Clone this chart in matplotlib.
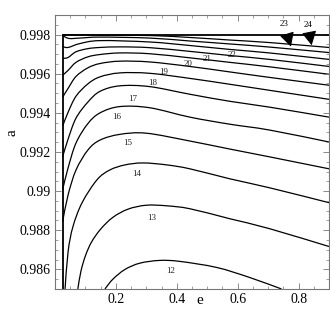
import numpy as np
import matplotlib.pyplot as plt
from matplotlib.path import Path
from matplotlib.patches import PathPatch
from matplotlib.ticker import MultipleLocator

plt.rcParams['font.family'] = ['Liberation Serif', 'DejaVu Serif']

# region where the function is defined
e_min = 0.025
a_max = 0.998

# contour curves: level -> (e values, a values)
e12 = [0.164, 0.190, 0.230, 0.279, 0.344, 0.410, 0.531, 0.639, 0.744]
a12 = [0.98500, 0.98550, 0.98600, 0.98632, 0.98646, 0.98641, 0.98610, 0.98559, 0.98500]

e13 = [0.075, 0.085, 0.1, 0.12, 0.15, 0.19, 0.24, 0.30, 0.367, 0.443, 0.574, 0.705, 0.9]
a13 = [0.98500, 0.98590, 0.98670, 0.98740, 0.98806, 0.98866, 0.98908, 0.98928, 0.98925,
       0.98910, 0.98859, 0.98808, 0.98717]

e14 = [0.033, 0.043, 0.059, 0.089, 0.138, 0.180, 0.230, 0.289, 0.367, 0.443, 0.574, 0.705, 0.9]
a14 = [0.98500, 0.98691, 0.98819, 0.98941, 0.99058, 0.99108, 0.99134, 0.99144, 0.99134,
       0.99114, 0.99063, 0.99017, 0.98941]

e15 = [0.025, 0.043, 0.069, 0.108, 0.148, 0.213, 0.300, 0.443, 0.574, 0.705, 0.9]
a15 = [0.98844, 0.98981, 0.99108, 0.99210, 0.99261, 0.99290, 0.99296, 0.99256,
       0.99215, 0.99175, 0.99114]

e16 = [0.025, 0.043, 0.069, 0.108, 0.148, 0.213, 0.311, 0.443, 0.574, 0.705, 0.9]
a16 = [0.99007, 0.99119, 0.99246, 0.99345, 0.99400, 0.99432, 0.99426, 0.99378, 0.99342,
       0.99312, 0.99251]

e17 = [0.025, 0.043, 0.069, 0.108, 0.148, 0.213, 0.311, 0.443, 0.574, 0.705, 0.9]
a17 = [0.99175, 0.99266, 0.99373, 0.99455, 0.99510, 0.99538, 0.99534, 0.99495, 0.99459,
       0.99429, 0.99378]

e18 = [0.025, 0.043, 0.069, 0.108, 0.148, 0.213, 0.311, 0.443, 0.574, 0.705, 0.9]
a18 = [0.99332, 0.99403, 0.99485, 0.99548, 0.99584, 0.99604, 0.99602, 0.99576, 0.99546,
       0.99515, 0.99469]

e19 = [0.025, 0.043, 0.069, 0.108, 0.148, 0.213, 0.311, 0.443, 0.574, 0.705, 0.9]
a19 = [0.99480, 0.99525, 0.99586, 0.99630, 0.99652, 0.99664, 0.99660, 0.99637, 0.99609,
       0.99581, 0.99541]

e20 = [0.025, 0.043, 0.069, 0.108, 0.148, 0.213, 0.311, 0.443, 0.574, 0.705, 0.9]
a20 = [0.99592, 0.99617, 0.99658, 0.99686, 0.99698, 0.99706, 0.99702, 0.99681, 0.99658,
       0.99635, 0.99597]

e21 = [0.025, 0.043, 0.069, 0.108, 0.148, 0.213, 0.311, 0.443, 0.574, 0.705, 0.9]
a21 = [0.99678, 0.99683, 0.99712, 0.99728, 0.99734, 0.99737, 0.99733, 0.99714, 0.99693,
       0.99673, 0.99637]

e22 = [0.025, 0.043, 0.082, 0.148, 0.311, 0.443, 0.574, 0.705, 0.9]
a22 = [0.99739, 0.99734, 0.99754, 0.99769, 0.99762, 0.99744, 0.99724, 0.99706, 0.99673]

e23 = [0.025, 0.046, 0.082, 0.148, 0.311, 0.443, 0.574, 0.705, 0.9]
a23 = [0.99795, 0.99780, 0.99782, 0.99787, 0.99782, 0.99767, 0.99752, 0.99736, 0.99708]

e24 = [0.025, 0.148, 0.311, 0.443, 0.574, 0.705, 0.9]
a24 = [0.99799, 0.99797, 0.99795, 0.99785, 0.99772, 0.99759, 0.99734]

curves = [(e12, a12), (e13, a13), (e14, a14), (e15, a15), (e16, a16), (e17, a17),
          (e18, a18), (e19, a19), (e20, a20), (e21, a21), (e22, a22), (e23, a23), (e24, a24)]

# contour labels and where they sit
levels = [12, 13, 14, 15, 16, 17, 18, 19, 20, 21, 22]
label_e = [0.380, 0.318, 0.269, 0.239, 0.203, 0.256, 0.321, 0.357, 0.436, 0.498, 0.580]
label_a = [0.98590, 0.98864, 0.99088, 0.99246, 0.99378, 0.99469, 0.99551, 0.99607,
           0.99647, 0.99673, 0.99698]

# labels with arrows (text position, arrow tip)
arrow_levels = [23, 24]
arrow_text = [(0.751, 0.99856), (0.830, 0.99851)]
arrow_tip = [(0.775, 0.99738), (0.843, 0.99745)]


def smooth_path(x, y):
    # catmull-rom through the read points, drawn as cubic bezier pieces
    p = np.column_stack([x, y])
    p = np.vstack([p[0], p, p[-1]])
    verts = [p[1]]
    codes = [Path.MOVETO]
    for i in range(1, len(p) - 2):
        c1 = p[i] + (p[i + 1] - p[i - 1]) / 6
        c2 = p[i + 1] - (p[i + 2] - p[i]) / 6
        verts += [c1, c2, p[i + 1]]
        codes += [Path.CURVE4] * 3
    return Path(verts, codes)


fig = plt.figure(figsize=(3.3, 3.2), dpi=100)
ax = fig.add_axes([0.1667, 0.0969, 0.8303, 0.8563])

for e, a in curves:
    ax.add_patch(PathPatch(smooth_path(e, a), fill=False, edgecolor='black', lw=0.9))

ax.plot([e_min, e_min], [0.985, a_max], color='black', lw=1.3)
ax.plot([e_min, 0.9], [a_max, a_max], color='black', lw=1.3)

for lv, x, y in zip(levels, label_e, label_a):
    ax.text(x, y, str(lv), fontsize=6.5, ha='center', va='center', color='#222222')

for lv, (tx, ty), (hx, hy) in zip(arrow_levels, arrow_text, arrow_tip):
    ax.annotate(str(lv), xy=(hx, hy), xytext=(tx, ty), fontsize=6.5,
                ha='center', va='center',
                arrowprops=dict(arrowstyle='-|>,head_length=0.85,head_width=0.45',
                                mutation_scale=10, color='black', lw=0.8,
                                shrinkA=3, shrinkB=0))

ax.set_xlim(0, 0.9)
ax.set_ylim(0.985, 0.999)

ax.xaxis.set_major_locator(MultipleLocator(0.2))
ax.xaxis.set_minor_locator(MultipleLocator(0.05))
ax.yaxis.set_major_locator(MultipleLocator(0.002))
ax.yaxis.set_minor_locator(MultipleLocator(0.0005))
ax.set_xticks([0.2, 0.4, 0.6, 0.8])
ax.set_xticklabels(['0.2', '0.4', '0.6', '0.8'])
ax.set_yticks([0.986, 0.988, 0.99, 0.992, 0.994, 0.996, 0.998])
ax.set_yticklabels(['0.986', '0.988', '0.99', '0.992', '0.994', '0.996', '0.998'])

ax.tick_params(which='both', direction='in', top=True, right=True, color='#777777',
               labelsize=10, pad=3)
ax.tick_params(which='major', length=4, width=0.6)
ax.tick_params(which='minor', length=2, width=0.5)
for s in ax.spines.values():
    s.set_color('#777777')
    s.set_linewidth(0.8)

ax.set_xlabel('e', fontsize=11)
ax.xaxis.set_label_coords(0.53, -0.02)
ax.set_ylabel('a', fontsize=11)
ax.yaxis.set_label_coords(-0.135, 0.57)

fig.savefig('out.png', dpi=100)
